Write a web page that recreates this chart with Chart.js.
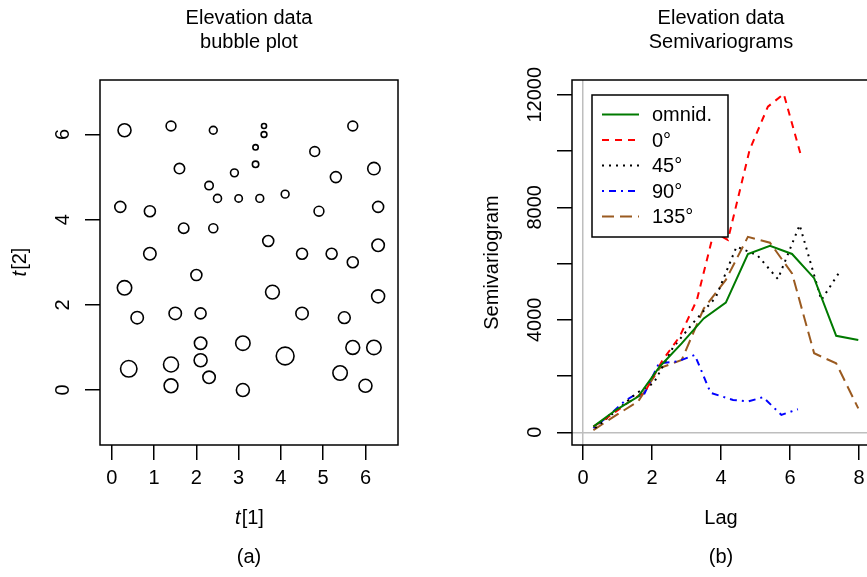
<!DOCTYPE html>
<html>
<head>
<meta charset="utf-8">
<script src="https://cdn.jsdelivr.net/npm/chart.js@4.4.1/dist/chart.umd.min.js"></script>
<style>
  html, body { margin: 0; padding: 0; background: #fff; overflow: hidden; }
  #wrap { position: relative; width: 867px; height: 577px; overflow: hidden; }
  #left { position: absolute; left: 0; top: 0; }
  #right { position: absolute; left: 434px; top: 0; }
</style>
</head>
<body>
<div id="wrap">
  <canvas id="left" width="434" height="577"></canvas>
  <canvas id="right" width="450" height="577"></canvas>
</div>
<script>
// ---- panel (a): sampling sites, circle size follows elevation ----
const siteX = [0.3, 1.4, 2.4, 3.6, 3.6, 5.7, 3.4, 3.4, 1.6, 2.9, 2.3, 2.5, 3.0, 3.5, 4.1, 4.8, 6.2, 5.3,
               0.2, 0.9, 4.9, 6.3, 1.7, 2.4, 3.7, 6.3, 4.5, 5.2, 5.7, 0.9, 2.0, 0.3, 3.8, 6.3, 0.6, 1.5,
               2.1, 4.5, 5.5, 2.1, 3.1, 0.4, 1.4, 2.1, 2.3, 4.1, 5.7, 6.2, 5.4, 1.4, 6.0, 3.1];
const siteY = [6.1, 6.2, 6.1, 6.2, 6.0, 6.2, 5.7, 5.3, 5.2, 5.1, 4.8, 4.5, 4.5, 4.5, 4.6, 5.6, 5.2, 5.0,
               4.3, 4.2, 4.2, 4.3, 3.8, 3.8, 3.5, 3.4, 3.2, 3.2, 3.0, 3.2, 2.7, 2.4, 2.3, 2.2, 1.7, 1.8,
               1.8, 1.8, 1.7, 1.1, 1.1, 0.5, 0.6, 0.7, 0.3, 0.8, 1.0, 1.0, 0.4, 0.1, 0.1, 0.0];
const siteElev = [852, 788, 748, 692, 708, 788, 700, 720, 800, 748, 760, 752, 740, 748, 748, 788, 840, 812,
                  812, 812, 788, 812, 800, 772, 812, 840, 812, 812, 812, 840, 812, 880, 868, 852, 840, 840,
                  812, 840, 828, 840, 880, 920, 892, 852, 840, 948, 868, 880, 880, 868, 852, 852];
const ticksA_x = [0, 1, 2, 3, 4, 5, 6];
const ticksA_y = [0, 2, 4, 6];

// ---- panel (b): empirical semivariograms ----
const lagOmni = [0.3, 0.95, 1.6, 2.22, 2.86, 3.5, 4.14, 4.78, 5.42, 6.06, 6.7, 7.34, 7.98];
const gamOmni = [200, 790, 1270, 2330, 3160, 4050, 4610, 6340, 6630, 6340, 5480, 3430, 3280];
const lag0 = [0.3, 0.8, 1.3, 1.8, 2.3, 2.8, 3.3, 3.79, 4.2, 4.83, 5.36, 5.82, 6.3];
const gam0 = [200, 600, 1050, 1450, 2550, 3400, 4700, 7110, 6840, 10040, 11580, 12030, 9920];
const lag45 = [0.35, 0.95, 1.55, 2.05, 2.6, 3.2, 3.85, 4.45, 5.05, 5.65, 6.28, 6.91, 7.44];
const gam45 = [150, 750, 1390, 1750, 3000, 3900, 4800, 6600, 6300, 5450, 7370, 4700, 5710];
const lag90 = [0.3, 0.75, 1.2, 1.5, 1.74, 2.2, 2.75, 3.24, 3.7, 4.35, 4.8, 5.22, 5.75, 6.23];
const gam90 = [150, 600, 1100, 1330, 1270, 2450, 2520, 2750, 1400, 1150, 1100, 1250, 620, 820];
const lag135 = [0.3, 0.95, 1.6, 2.22, 2.86, 3.5, 4.14, 4.78, 5.42, 6.06, 6.7, 7.34, 7.98];
const gam135 = [80, 600, 1100, 2280, 2570, 4400, 5420, 6950, 6740, 5650, 2810, 2450, 850];
const ticksB_x = [0, 2, 4, 6, 8];
const ticksB_y = [0, 2000, 4000, 6000, 8000, 10000, 12000];
const labelsB_y = [0, 4000, 8000, 12000];

const FONT = '"Liberation Sans", Arial, Helvetica, sans-serif';
Chart.defaults.font.family = FONT;
Chart.defaults.font.size = 20;
Chart.defaults.color = '#000';

function rotText(ctx, txt, x, y) {
    ctx.save();
    ctx.translate(x, y);
    ctx.rotate(-Math.PI / 2);
    ctx.textAlign = 'center';
    ctx.textBaseline = 'middle';
    ctx.fillText(txt, 0, 0);
    ctx.restore();
}

// italic t followed by "[n]"
function tLabel(ctx, idx, x, y, rotate) {
    const it = 'italic 20px ' + FONT, up = '20px ' + FONT;
    ctx.save();
    ctx.translate(x, y);
    if (rotate) ctx.rotate(-Math.PI / 2);
    ctx.textBaseline = 'middle';
    ctx.textAlign = 'left';
    ctx.font = it;
    const w1 = ctx.measureText('t').width;
    ctx.font = up;
    const rest = '[' + idx + ']';
    const w2 = ctx.measureText(rest).width;
    const x0 = -(w1 + w2) / 2;
    ctx.font = it;
    ctx.fillText('t', x0, 0);
    ctx.font = up;
    ctx.fillText(rest, x0 + w1 + 1, 0);
    ctx.restore();
}

function useTicks(values) {
    return scale => { scale.ticks = values.map(v => ({ value: v })); };
}

// draws the box, titles, y tick labels and axis titles, R style
function decorations(cfg) {
    return {
        id: 'decor',
        afterDraw(chart) {
            const { ctx, chartArea: a } = chart;
            const cx = (a.left + a.right) / 2;
            ctx.save();
            ctx.strokeStyle = '#000';
            ctx.lineWidth = 1.5;
            ctx.strokeRect(a.left, a.top, a.right - a.left, a.bottom - a.top);
            ctx.fillStyle = '#000';
            ctx.font = '20px ' + FONT;
            ctx.textAlign = 'center';
            ctx.textBaseline = 'middle';
            ctx.fillText(cfg.title[0], cx, 18);
            ctx.fillText(cfg.title[1], cx, 42);
            ctx.fillText(cfg.sub, cx, 557);
            const ys = chart.scales.y;
            cfg.yLabels.forEach(v => rotText(ctx, String(v), a.left - 37, ys.getPixelForValue(v)));
            if (cfg.tNames) {
                tLabel(ctx, 1, cx, a.bottom + 73, false);
                tLabel(ctx, 2, a.left - 80, (a.top + a.bottom) / 2, true);
            } else {
                ctx.fillText(cfg.xTitle, cx, a.bottom + 73);
                rotText(ctx, cfg.yTitle, a.left - 80, (a.top + a.bottom) / 2);
            }
            ctx.restore();
        }
    };
}

const legendBox = {
    id: 'legendBox',
    afterDraw(chart) {
        const { ctx, chartArea: a } = chart;
        const bx = a.left + 20, by = a.top + 15;
        ctx.save();
        ctx.fillStyle = '#fff';
        ctx.fillRect(bx, by, 136, 142);
        ctx.strokeStyle = '#000';
        ctx.lineWidth = 1.5;
        ctx.strokeRect(bx, by, 136, 142);
        chart.data.datasets.forEach((ds, i) => {
            const y = by + 19.5 + i * 25.5;
            ctx.strokeStyle = ds.borderColor;
            ctx.lineWidth = ds.borderWidth;
            ctx.setLineDash(ds.borderDash || []);
            ctx.lineCap = ds.borderCapStyle || 'butt';
            ctx.beginPath();
            ctx.moveTo(bx + 10, y);
            ctx.lineTo(bx + 47, y);
            ctx.stroke();
            ctx.setLineDash([]);
            ctx.fillStyle = '#000';
            ctx.font = '20px ' + FONT;
            ctx.textAlign = 'left';
            ctx.textBaseline = 'middle';
            ctx.fillText(ds.label, bx + 60, y + 1);
        });
        ctx.restore();
    }
};

const AXIS_H = 132; // room under the box for tick labels
const tickGrid = { drawOnChartArea: false, drawTicks: true, tickLength: 15, color: '#000', lineWidth: 1.5 };

new Chart(document.getElementById('left'), {
    type: 'bubble',
    data: {
        datasets: [{
            data: siteX.map((x, i) => ({ x: x, y: siteY[i], r: 2.2 + (siteElev[i] - 680) / 40 })),
            backgroundColor: 'rgba(0,0,0,0)',
            borderColor: '#000',
            borderWidth: 1.6
        }]
    },
    options: {
        responsive: false,
        animation: false,
        events: [],
        layout: { padding: { left: 100, right: 36, top: 80, bottom: 0 } },
        plugins: { legend: { display: false }, tooltip: { enabled: false } },
        scales: {
            x: {
                type: 'linear', min: -0.28, max: 6.77,
                afterBuildTicks: useTicks(ticksA_x),
                afterFit: s => { s.height = AXIS_H; },
                grid: tickGrid, border: { display: false },
                ticks: { padding: 6, maxRotation: 0, autoSkip: false, font: { size: 20 } }
            },
            y: {
                type: 'linear', min: -1.29, max: 7.28,
                afterBuildTicks: useTicks(ticksA_y),
                afterFit: s => { s.width = 0; },
                grid: tickGrid, border: { display: false },
                ticks: { display: false }
            }
        }
    },
    plugins: [decorations({ title: ['Elevation data', 'bubble plot'], sub: '(a)', yLabels: ticksA_y, tNames: true })]
});

const pts = (lags, vals) => lags.map((l, i) => ({ x: l, y: vals[i] }));
const zeroGrid = {
    drawOnChartArea: true, drawTicks: true, tickLength: 15, lineWidth: 1.5,
    color: c => (c.tick && c.tick.value === 0 ? '#bebebe' : 'rgba(0,0,0,0)'),
    tickColor: '#000'
};

new Chart(document.getElementById('right'), {
    type: 'scatter',
    data: {
        datasets: [
            { label: 'omnid.', data: pts(lagOmni, gamOmni), borderColor: '#007a00', borderWidth: 2 },
            { label: '0°', data: pts(lag0, gam0), borderColor: '#ff0000', borderWidth: 2, borderDash: [7, 6] },
            { label: '45°', data: pts(lag45, gam45), borderColor: '#000000', borderWidth: 2, borderDash: [2, 5] },
            { label: '90°', data: pts(lag90, gam90), borderColor: '#0000ff', borderWidth: 2, borderDash: [2, 5, 7, 5] },
            { label: '135°', data: pts(lag135, gam135), borderColor: '#9a5a20', borderWidth: 2, borderDash: [12, 6] }
        ].map(d => Object.assign(d, { showLine: true, pointRadius: 0, fill: false, tension: 0 }))
    },
    options: {
        responsive: false,
        animation: false,
        events: [],
        layout: { padding: { left: 138, right: 14, top: 80, bottom: 0 } },
        plugins: { legend: { display: false }, tooltip: { enabled: false } },
        scales: {
            x: {
                type: 'linear', min: -0.32, max: 8.32,
                afterBuildTicks: useTicks(ticksB_x),
                afterFit: s => { s.height = AXIS_H; },
                grid: zeroGrid, border: { display: false },
                ticks: { padding: 6, maxRotation: 0, autoSkip: false, font: { size: 20 } }
            },
            y: {
                type: 'linear', min: -452, max: 12526,
                afterBuildTicks: useTicks(ticksB_y),
                afterFit: s => { s.width = 0; },
                grid: zeroGrid, border: { display: false },
                ticks: { display: false }
            }
        }
    },
    plugins: [decorations({ title: ['Elevation data', 'Semivariograms'], sub: '(b)', yLabels: labelsB_y,
                            xTitle: 'Lag', yTitle: 'Semivariogram' }), legendBox]
});
</script>
</body>
</html>
